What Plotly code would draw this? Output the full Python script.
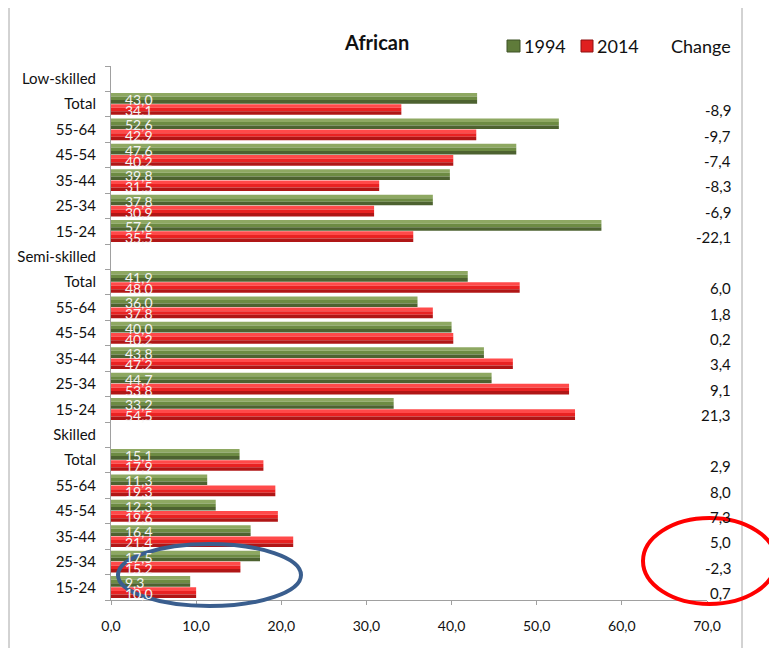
import plotly.graph_objects as go

# ---------------- data ----------------
groups = ["Low-skilled", "Semi-skilled", "Skilled"]
ages = ["Total", "55-64", "45-54", "35-44", "25-34", "15-24"]

v1994_low = [43.0, 52.6, 47.6, 39.8, 37.8, 57.6]
v2014_low = [34.1, 42.9, 40.2, 31.5, 30.9, 35.5]
change_low = [-8.9, -9.7, -7.4, -8.3, -6.9, -22.1]

v1994_semi = [41.9, 36.0, 40.0, 43.8, 44.7, 33.2]
v2014_semi = [48.0, 37.8, 40.2, 47.2, 53.8, 54.5]
change_semi = [6.0, 1.8, 0.2, 3.4, 9.1, 21.3]

v1994_sk = [15.1, 11.3, 12.3, 16.4, 17.5, 9.3]
v2014_sk = [17.9, 19.3, 19.6, 21.4, 15.2, 10.0]
change_sk = [2.9, 8.0, 7.3, 5.0, -2.3, 0.7]

x_ticks = [0, 10, 20, 30, 40, 50, 60, 70]
series_names = ["1994", "2014"]
title_text = "African"
change_title = "Change"

# ---------------- build rows ----------------
row_labels = []
bar_y = []
vals94 = []
vals14 = []
changes = []
for g, a94, a14, ch in zip(groups,
                           [v1994_low, v1994_semi, v1994_sk],
                           [v2014_low, v2014_semi, v2014_sk],
                           [change_low, change_semi, change_sk]):
    row_labels.append(g)
    for age, p, q, c in zip(ages, a94, a14, ch):
        bar_y.append(len(row_labels))
        row_labels.append(age)
        vals94.append(p)
        vals14.append(q)
        changes.append(c)

n_rows = len(row_labels)

# screen-pixel layout (page body has an 8px margin)
OFF = 8
L, R, T, B = 111, 707, 66, 600     # plot area on screen
W, H = 777, 648
def px(xp):
    return (xp - L) / (R - L)
def py(yp):
    return (B - yp) / (B - T)

FONT = "Lato, 'Open Sans', sans-serif"

fig = go.Figure()

# bar geometry (in row units; axis reversed so smaller = higher)
bar_h = 0.42
green_top = -0.44
red_top = 0.0
bands = [(0.0, 0.34), (0.34, 0.67), (0.67, 1.0)]
green_cols = ["#8ea862", "#6d8b43", "#4d6230"]
red_cols = ["#ff4a4a", "#e92222", "#b01616"]

for vals, top, cols, name in [(vals94, green_top, green_cols, series_names[0]),
                              (vals14, red_top, red_cols, series_names[1])]:
    for (f0, f1), col in zip(bands, cols):
        fig.add_trace(go.Bar(
            x=vals, y=bar_y, orientation="h", name=name,
            offset=top + f0 * bar_h, width=(f1 - f0) * bar_h,
            marker=dict(color=col, line=dict(width=0)),
            showlegend=False,
            hovertemplate="%{x:.1f}<extra>" + name + "</extra>",
        ))

annotations = []
# value labels at the base of each bar
for vals, top in [(vals94, green_top), (vals14, red_top)]:
    for yv, v in zip(bar_y, vals):
        annotations.append(dict(
            x=0, xref="x", y=yv + top + bar_h / 2, yref="y",
            xshift=12, yshift=-1,
            text=f"{v:.1f}".replace(".", ","), showarrow=False,
            xanchor="left", yanchor="middle",
            font=dict(family=FONT, size=14, color="#f4f4f4"),
        ))

# change column
for yv, c in zip(bar_y, changes):
    annotations.append(dict(
        x=px(733), xref="paper", y=yv, yref="y", yshift=-6,
        text=f"{c:.1f}".replace(".", ","), showarrow=False,
        xanchor="right", yanchor="middle",
        font=dict(family=FONT, size=15, color="#111111"),
    ))

# title, legend, change header
annotations.append(dict(x=px(376), y=py(42), xref="paper", yref="paper",
                        text="<b>" + title_text + "</b>", showarrow=False,
                        xanchor="center", yanchor="middle",
                        font=dict(family=FONT, size=20, color="#111111")))
annotations.append(dict(x=px(522), y=py(46), xref="paper", yref="paper",
                        text=series_names[0], showarrow=False,
                        xanchor="left", yanchor="middle",
                        font=dict(family=FONT, size=18, color="#111111")))
annotations.append(dict(x=px(595), y=py(46), xref="paper", yref="paper",
                        text=series_names[1], showarrow=False,
                        xanchor="left", yanchor="middle",
                        font=dict(family=FONT, size=18, color="#111111")))
annotations.append(dict(x=px(733), y=py(46), xref="paper", yref="paper",
                        text=change_title, showarrow=False,
                        xanchor="right", yanchor="middle",
                        font=dict(family=FONT, size=18, color="#111111")))

shapes = [
    # chart frame
    dict(type="rect", xref="paper", yref="paper",
         x0=px(9), x1=px(742), y0=py(660), y1=py(7),
         line=dict(color="#a6a6a6", width=1), fillcolor="rgba(0,0,0,0)", layer="below"),
    # legend squares
    dict(type="rect", xref="paper", yref="paper",
         x0=px(507), x1=px(520), y0=py(52), y1=py(40),
         line=dict(color="#3f5226", width=1), fillcolor="#5f7b3a"),
    dict(type="rect", xref="paper", yref="paper",
         x0=px(581), x1=px(593), y0=py(52), y1=py(40),
         line=dict(color="#8f1010", width=1), fillcolor="#e02020"),
    # highlight ellipses
    dict(type="circle", xref="paper", yref="paper",
         x0=px(118), x1=px(301), y0=py(606), y1=py(544),
         line=dict(color="#3a5e8e", width=4)),
    dict(type="circle", xref="paper", yref="paper",
         x0=px(643), x1=px(776), y0=py(604), y1=py(518),
         line=dict(color="#ff0000", width=4)),
]

fig.update_layout(
    width=W, height=H,
    margin=dict(l=L - OFF, r=W - R + OFF, t=T - OFF, b=H - B + OFF),
    paper_bgcolor="white", plot_bgcolor="white",
    barmode="overlay",
    separators=", ",
    showlegend=False,
    font=dict(family=FONT, size=14, color="#111111"),
    xaxis=dict(range=[0, 70], tickvals=x_ticks, tickformat=".1f",
               automargin=False,
               showgrid=False, zeroline=False, showline=True,
               linecolor="#a0a0a0", linewidth=1,
               ticks="outside", ticklen=4, tickcolor="#a0a0a0",
               ticklabelstandoff=9,
               tickfont=dict(family=FONT, size=14, color="#111111")),
    xaxis2=dict(overlaying="x", side="top", anchor="y", range=[0, 6],
                automargin=False,
                tickvals=[0, 1, 2, 3, 4, 5, 6], showticklabels=False,
                showgrid=False, zeroline=False, showline=True,
                linecolor="#a0a0a0", linewidth=1,
                ticks="outside", ticklen=7, tickcolor="#a0a0a0"),
    yaxis=dict(range=[n_rows - 0.5, -0.5], tickvals=list(range(n_rows)),
               automargin=False,
               ticktext=row_labels, showgrid=False, zeroline=False,
               showline=True, linecolor="#a0a0a0", linewidth=1,
               ticks="outside", ticklen=0,
               ticklabelstandoff=11,
               minor=dict(tickvals=[i - 0.5 for i in range(n_rows + 1)],
                          ticks="outside", ticklen=5, tickcolor="#a0a0a0",
                          showgrid=False),
               tickfont=dict(family=FONT, size=15, color="#111111")),
    annotations=annotations,
    shapes=shapes,
)

fig.write_html("out.html")
